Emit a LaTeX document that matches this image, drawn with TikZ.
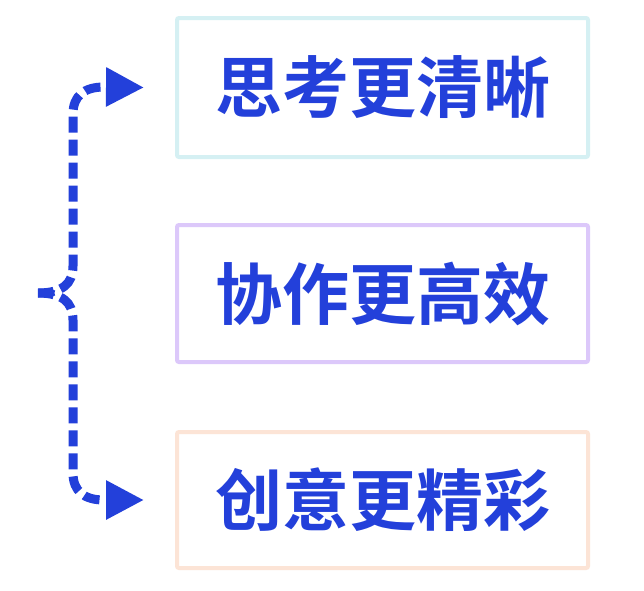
\documentclass[tikz,border=0pt]{standalone}
\usepackage{fontspec}
\newfontfamily\cjk{Noto Sans CJK SC}[BoldFont={Noto Sans CJK SC Bold}]
\usetikzlibrary{arrows.meta}
\definecolor{mainblue}{RGB}{35,64,218}
\definecolor{cyanb}{RGB}{213,240,243}
\definecolor{lavb}{RGB}{220,200,250}
\definecolor{peachb}{RGB}{252,228,214}
\tikzset{
  itembox/.style={draw, line width=4pt, rounded corners=2pt, minimum width=411pt, minimum height=137pt, inner sep=0pt, font=\cjk\bfseries\fontsize{67}{67}\selectfont, text=mainblue},
  bracepath/.style={draw=mainblue, line width=9pt, dash pattern=on 16pt off 7pt, -{Triangle[length=38pt,width=37pt]}}
}
\begin{document}
\begin{tikzpicture}[x=1pt,y=-1pt]
\useasboundingbox[fill=white] (0,0) rectangle (644,590);
\node[itembox, draw=cyanb, minimum height=139pt] (b1) at (382.5,87.5) {思考更清晰};
\node[itembox, draw=lavb] (b2) at (382.5,293.5) {协作更高效};
\node[itembox, draw=peachb, minimum height=136pt] (b3) at (382.5,500) {创意更精彩};
\coordinate (cusp) at (38,293);
\coordinate (t1) at ([xshift=-31pt]b1.west);
\coordinate (t3) at ([xshift=-31pt]b3.west);
\draw[bracepath] (cusp) .. controls (62,293) and (73,284) .. (73,266) -- (73,114) .. controls (73,96) and (84,87) .. (104,87) -- (t1);
\draw[bracepath] (cusp) .. controls (62,293) and (73,302) .. (73,320) -- (73,473) .. controls (73,491) and (84,500) .. (104,500) -- (t3);
\end{tikzpicture}
\end{document}
